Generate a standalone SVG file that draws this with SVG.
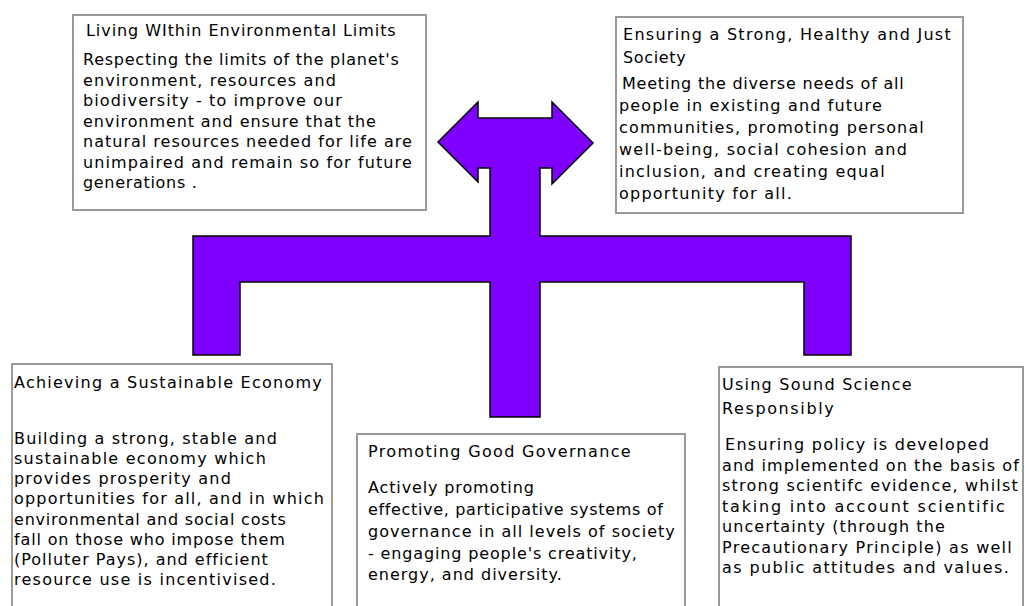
<svg xmlns="http://www.w3.org/2000/svg" width="1026" height="606" viewBox="0 0 1026 606">
  <style>
    .box { fill: #ffffff; stroke: #9a9a9a; stroke-width: 2; }
    .txt { font-family: "DejaVu Sans", Verdana, sans-serif; font-size: 16px; letter-spacing: 1.2px; fill: #000000; }
    .title { letter-spacing: 1.3px; }
    .connector { fill: #8000ff; stroke: #000000; stroke-width: 1.5; stroke-linejoin: miter; }
  </style>
  <rect width="1026" height="606" fill="#ffffff"/>

  <!-- central double-headed arrow joined to the branching bar -->
  <g id="connectors">
    <polygon class="connector" points="438,142 478,102 478,118 552,118 552,102 593,143 552,184 552,168 540,168 540,236 851,236 851,355 804,355 804,282 540,282 540,417 490,417 490,282 240,282 240,355 193,355 193,236 490,236 490,168 478,168 478,182"/>
  </g>

  <g id="environment">
    <rect class="box" x="73" y="15" width="353" height="195"/>
    <text class="txt title" x="86" y="36" textLength="311">Living WIthin Environmental Limits</text>
    <text class="txt" x="83" y="65" textLength="317">Respecting the limits of the planet's</text>
    <text class="txt" x="83" y="85.5" textLength="254">environment, resources and</text>
    <text class="txt" x="83" y="106" textLength="260">biodiversity - to improve our</text>
    <text class="txt" x="83" y="126.5" textLength="294">environment and ensure that the</text>
    <text class="txt" x="83" y="147" textLength="330">natural resources needed for life are</text>
    <text class="txt" x="83" y="167.5" textLength="330">unimpaired and remain so for future</text>
    <text class="txt" x="83" y="188" textLength="115">generations .</text>
  </g>

  <g id="society">
    <rect class="box" x="616" y="17" width="347" height="196"/>
    <text class="txt title" x="623" y="40" textLength="329">Ensuring a Strong, Healthy and Just</text>
    <text class="txt title" x="623" y="63" textLength="64">Society</text>
    <text class="txt" x="622" y="89" textLength="283">Meeting the diverse needs of all</text>
    <text class="txt" x="619" y="111" textLength="264">people in existing and future</text>
    <text class="txt" x="619" y="133" textLength="306">communities, promoting personal</text>
    <text class="txt" x="619" y="155" textLength="289">well-being, social cohesion and</text>
    <text class="txt" x="619" y="177" textLength="267">inclusion, and creating equal</text>
    <text class="txt" x="619" y="199" textLength="174">opportunity for all.</text>
  </g>

  <g id="economy">
    <rect class="box" x="12" y="364" width="320" height="260"/>
    <text class="txt title" x="14" y="388" textLength="309">Achieving a Sustainable Economy</text>
    <text class="txt" x="14" y="444" textLength="264">Building a strong, stable and</text>
    <text class="txt" x="14" y="464" textLength="253">sustainable economy which</text>
    <text class="txt" x="14" y="484" textLength="218">provides prosperity and</text>
    <text class="txt" x="14" y="504" textLength="311">opportunities for all, and in which</text>
    <text class="txt" x="14" y="524.5" textLength="273">environmental and social costs</text>
    <text class="txt" x="14" y="545" textLength="272">fall on those who impose them</text>
    <text class="txt" x="14" y="565" textLength="255">(Polluter Pays), and efficient</text>
    <text class="txt" x="14" y="585" textLength="263">resource use is incentivised.</text>
  </g>

  <g id="governance">
    <rect class="box" x="357" y="434" width="328" height="200"/>
    <text class="txt title" x="368" y="457" textLength="264">Promoting Good Governance</text>
    <text class="txt" x="368" y="493" textLength="167">Actively promoting</text>
    <text class="txt" x="368" y="515" textLength="296">effective, participative systems of</text>
    <text class="txt" x="368" y="537" textLength="308">governance in all levels of society</text>
    <text class="txt" x="368" y="559" textLength="270">- engaging people's creativity,</text>
    <text class="txt" x="368" y="580" textLength="195">energy, and diversity.</text>
  </g>

  <g id="science">
    <rect class="box" x="719" y="367" width="304" height="260"/>
    <text class="txt title" x="722" y="390" textLength="191">Using Sound Science</text>
    <text class="txt title" x="722" y="413.5" textLength="113">Responsibly</text>
    <text class="txt" x="725" y="450" textLength="265">Ensuring policy is developed</text>
    <text class="txt" x="722" y="470.5" textLength="298">and implemented on the basis of</text>
    <text class="txt" x="722" y="491" textLength="297">strong scientifc evidence, whilst</text>
    <text class="txt" x="722" y="511.5" textLength="284">taking into account scientific</text>
    <text class="txt" x="722" y="532" textLength="224">uncertainty (through the</text>
    <text class="txt" x="722" y="552.5" textLength="291">Precautionary Principle) as well</text>
    <text class="txt" x="722" y="573" textLength="288">as public attitudes and values.</text>
  </g>
</svg>
